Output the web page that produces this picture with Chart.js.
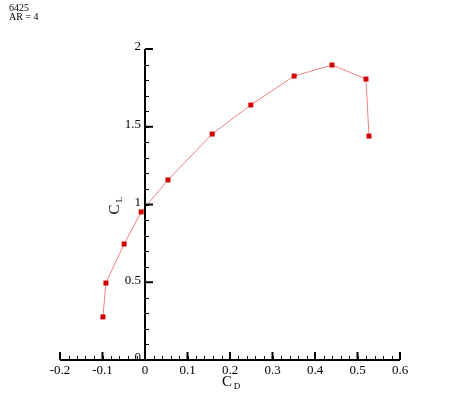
<!DOCTYPE html>
<html>
<head>
<meta charset="utf-8">
<script src="https://cdn.jsdelivr.net/npm/chart.js@4"></script>
<style>
  body { margin: 0; background: #fff; }
  #wrap { position: relative; width: 455px; height: 405px; }
</style>
</head>
<body>
<div id="wrap"><canvas id="polar" width="455" height="405"></canvas></div>
<script>
// drag polar
const cdValues = [-0.099, -0.092, -0.049, -0.009, 0.054, 0.158, 0.249, 0.351, 0.440, 0.520, 0.527];
const clValues = [0.277, 0.495, 0.746, 0.952, 1.158, 1.453, 1.640, 1.826, 1.897, 1.807, 1.440];
const xTicks = [-0.2, -0.1, 0, 0.1, 0.2, 0.3, 0.4, 0.5, 0.6];
const yTicks = [0, 0.5, 1, 1.5, 2];
const xMinorStep = 0.02;
const yMinorStep = 0.1;
const titleLines = ['6425', 'AR = 4'];

const serif = '"Liberation Serif", "Times New Roman", serif';

// axes through the origin, ticks pointing inward, drawn with the scales
const axesPlugin = {
    id: 'tecAxes',
    afterDraw(chart) {
        const ctx = chart.ctx;
        const xs = chart.scales.x;
        const ys = chart.scales.y;
        const x0 = xs.getPixelForValue(0);
        const y0 = ys.getPixelForValue(0);
        ctx.save();
        ctx.strokeStyle = '#000';
        ctx.fillStyle = '#000';

        // axis lines
        ctx.lineWidth = 2;
        ctx.beginPath();
        ctx.moveTo(xs.left, y0);
        ctx.lineTo(xs.right, y0);
        ctx.moveTo(x0, ys.top);
        ctx.lineTo(x0, y0);
        ctx.stroke();

        // minor ticks
        ctx.lineWidth = 1;
        ctx.beginPath();
        for (let v = xs.min; v <= xs.max + 1e-9; v += xMinorStep) {
            const px = Math.round(xs.getPixelForValue(v)) + 0.5;
            ctx.moveTo(px, y0);
            ctx.lineTo(px, y0 - 4);
        }
        for (let v = ys.min; v <= ys.max + 1e-9; v += yMinorStep) {
            const py = Math.round(ys.getPixelForValue(v)) + 0.5;
            ctx.moveTo(x0, py);
            ctx.lineTo(x0 + 4, py);
        }
        ctx.stroke();

        // major ticks
        ctx.lineWidth = 2;
        ctx.beginPath();
        xTicks.forEach(v => {
            const px = xs.getPixelForValue(v);
            ctx.moveTo(px, y0);
            ctx.lineTo(px, y0 - 8);
        });
        yTicks.forEach(v => {
            const py = ys.getPixelForValue(v);
            ctx.moveTo(x0, py);
            ctx.lineTo(x0 + 8, py);
        });
        ctx.stroke();

        // tick labels
        ctx.font = '13px ' + serif;
        ctx.textAlign = 'center';
        ctx.textBaseline = 'top';
        xTicks.forEach(v => {
            ctx.fillText(String(v), xs.getPixelForValue(v), y0 + 4);
        });
        ctx.textAlign = 'right';
        ctx.textBaseline = 'middle';
        yTicks.forEach(v => {
            ctx.fillText(String(v), x0 - 4, ys.getPixelForValue(v) - 2);
        });

        // axis titles
        const cx = (xs.left + xs.right) / 2;
        ctx.font = '15px ' + serif;
        ctx.textAlign = 'center';
        ctx.textBaseline = 'alphabetic';
        ctx.fillText('C', cx - 3, y0 + 26);
        ctx.font = '9px ' + serif;
        ctx.fillText('D', cx + 7, y0 + 29);

        const cy = (ys.top + y0) / 2;
        ctx.translate(x0 - 26, cy + 2);
        ctx.rotate(-Math.PI / 2);
        ctx.font = '15px ' + serif;
        ctx.fillText('C', -3, 0);
        ctx.font = '9px ' + serif;
        ctx.fillText('L', 7, 3);
        ctx.restore();

        // case label
        ctx.save();
        ctx.font = '10px ' + serif;
        ctx.fillStyle = '#000';
        ctx.textBaseline = 'top';
        titleLines.forEach((t, i) => ctx.fillText(t, 9, 3 + i * 9));
        ctx.restore();
    }
};

window.onload = function () {
    const ctx = document.getElementById('polar').getContext('2d');
    new Chart(ctx, {
        type: 'scatter',
        data: {
            datasets: [{
                data: cdValues.map((cd, i) => ({ x: cd, y: clValues[i] })),
                showLine: true,
                borderColor: '#f08080',
                borderWidth: 1,
                pointStyle: 'rect',
                pointRadius: 3.5,
                pointBackgroundColor: '#d40000',
                pointBorderColor: '#d40000',
                pointBorderWidth: 0
            }]
        },
        options: {
            responsive: false,
            animation: false,
            layout: { padding: { left: 60, right: 55, top: 49, bottom: 45 } },
            scales: {
                x: { type: 'linear', min: -0.2, max: 0.6, display: false },
                y: { type: 'linear', min: 0, max: 2, display: false }
            },
            plugins: {
                legend: { display: false },
                tooltip: { enabled: false }
            }
        },
        plugins: [axesPlugin]
    });
};
</script>
</body>
</html>
